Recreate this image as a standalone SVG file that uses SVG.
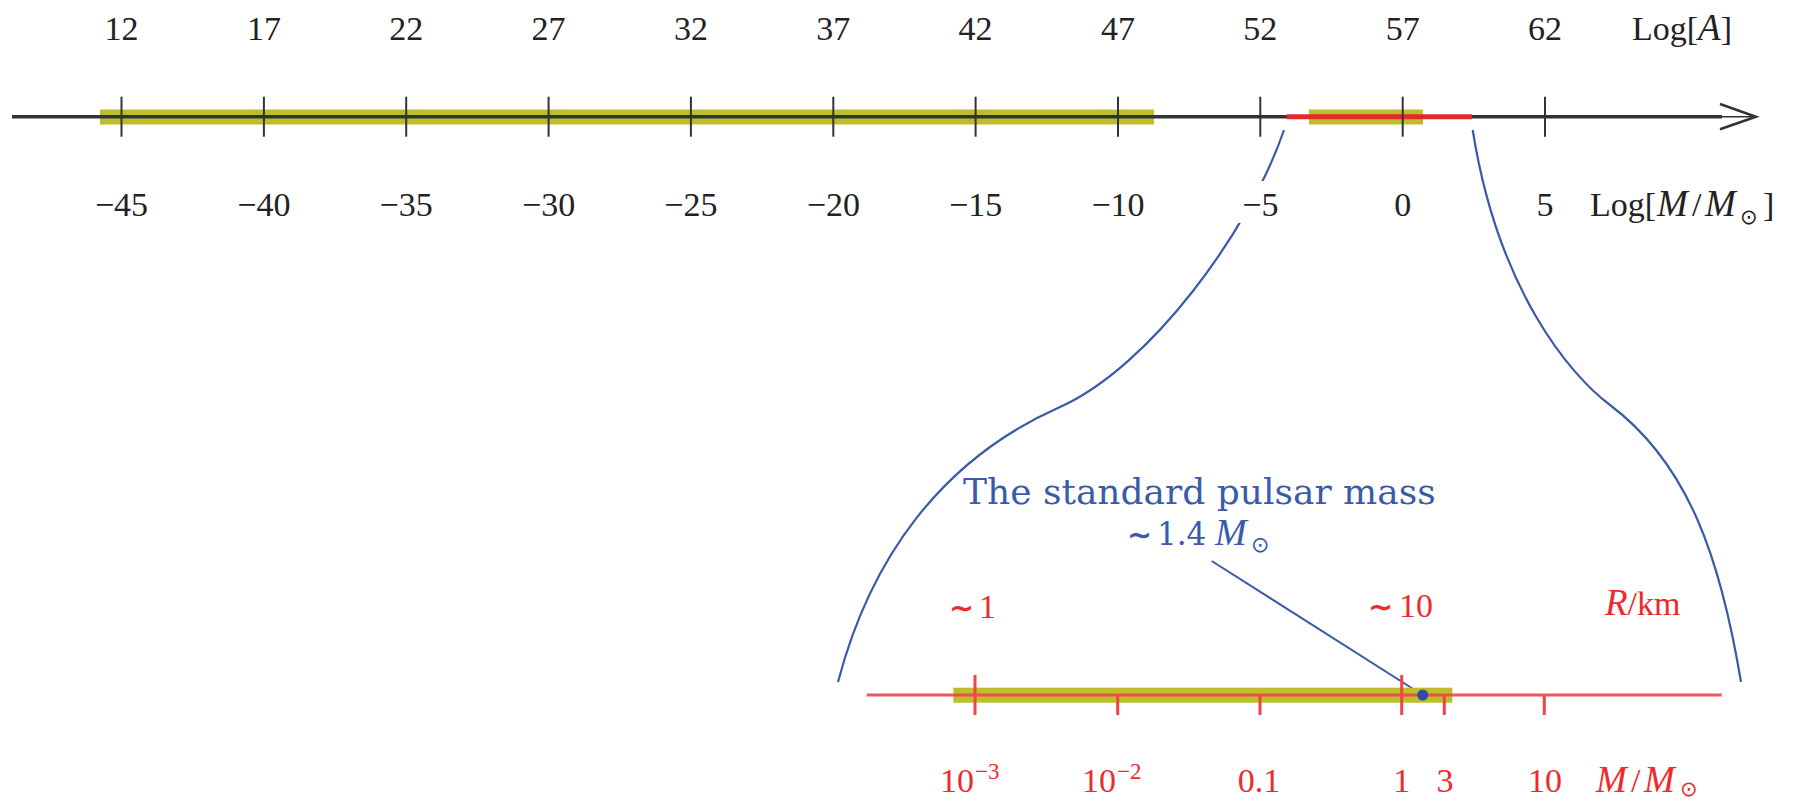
<svg xmlns="http://www.w3.org/2000/svg" width="1794" height="802" viewBox="0 0 1794 802">
<style>
.num{font-family:"Liberation Serif",serif;font-size:34px;fill:#222;text-anchor:middle}
.lbl{font-family:"Liberation Serif",serif;font-size:34px;fill:#222}
.it{font-style:italic}
.mi{font-style:italic;font-size:37px}
.red{fill:#ee2a2a}
.blue{fill:#3a5ba8}
.sun{font-family:"DejaVu Sans",sans-serif;font-size:21px}
.tl{font-family:"DejaVu Sans",sans-serif;font-size:30px;font-weight:bold}
.tick{stroke:#333;stroke-width:2}
.rtick{stroke:#f04545;stroke-width:3}
.band{fill:#bebe2c}
.curve{fill:none;stroke:#3a5ba8;stroke-width:2.2}
</style>
<rect width="1794" height="802" fill="#fff"/>
<g id="top-axis">
  <rect class="band" x="100" y="109.5" width="1054" height="15"/>
  <rect class="band" x="1309" y="109.5" width="114" height="15"/>
  <line x1="12" y1="116.7" x2="1722" y2="116.7" stroke="#333" stroke-width="3.5"/>
  <line x1="1720" y1="116.7" x2="1754" y2="116.7" stroke="#333" stroke-width="1.5"/>
  <polyline points="1720,104 1756,116.7 1720,129.3" fill="none" stroke="#333" stroke-width="2.5"/>
  <line x1="1286.7" y1="116.7" x2="1472" y2="116.7" stroke="#e32a2a" stroke-width="5"/>
  <g>
    <line class="tick" x1="121.5" y1="96.7" x2="121.5" y2="136.7"/>
    <line class="tick" x1="263.9" y1="96.7" x2="263.9" y2="136.7"/>
    <line class="tick" x1="406.2" y1="96.7" x2="406.2" y2="136.7"/>
    <line class="tick" x1="548.6" y1="96.7" x2="548.6" y2="136.7"/>
    <line class="tick" x1="690.9" y1="96.7" x2="690.9" y2="136.7"/>
    <line class="tick" x1="833.3" y1="96.7" x2="833.3" y2="136.7"/>
    <line class="tick" x1="975.6" y1="96.7" x2="975.6" y2="136.7"/>
    <line class="tick" x1="1118" y1="96.7" x2="1118" y2="136.7"/>
    <line class="tick" x1="1260.3" y1="96.7" x2="1260.3" y2="136.7"/>
    <line class="tick" x1="1402.7" y1="96.7" x2="1402.7" y2="136.7"/>
    <line class="tick" x1="1545" y1="96.7" x2="1545" y2="136.7"/>
  </g>
  <g>
    <text class="num" x="121.5" y="39.5">12</text>
    <text class="num" x="263.9" y="39.5">17</text>
    <text class="num" x="406.2" y="39.5">22</text>
    <text class="num" x="548.6" y="39.5">27</text>
    <text class="num" x="690.9" y="39.5">32</text>
    <text class="num" x="833.3" y="39.5">37</text>
    <text class="num" x="975.6" y="39.5">42</text>
    <text class="num" x="1118" y="39.5">47</text>
    <text class="num" x="1260.3" y="39.5">52</text>
    <text class="num" x="1402.7" y="39.5">57</text>
    <text class="num" x="1545" y="39.5">62</text>
    <text class="lbl" x="1632" y="39.5">Log[<tspan class="mi">A</tspan>]</text>
  </g>
</g>
<g id="connectors">
  <path class="curve" d="M1284,130 C1250,230 1150,367 1060,407 C940,460 870,560 838,682"/>
  <path class="curve" d="M1472.7,130 C1498,290 1570,375 1610,405 C1690,465 1721,562 1741,682"/>
  <line x1="1211.7" y1="561" x2="1422.7" y2="695" stroke="#3a5ba8" stroke-width="2"/>
</g>
<g id="top-axis-bottom-labels">
  <rect x="1232" y="181" width="58" height="42" fill="#fff"/>
  <text class="num" x="121.5" y="216">−45</text>
  <text class="num" x="263.9" y="216">−40</text>
  <text class="num" x="406.2" y="216">−35</text>
  <text class="num" x="548.6" y="216">−30</text>
  <text class="num" x="690.9" y="216">−25</text>
  <text class="num" x="833.3" y="216">−20</text>
  <text class="num" x="975.6" y="216">−15</text>
  <text class="num" x="1118" y="216">−10</text>
  <text class="num" x="1260.3" y="216">−5</text>
  <text class="num" x="1402.7" y="216">0</text>
  <text class="num" x="1545" y="216">5</text>
  <text class="lbl" x="1590" y="216">Log[<tspan class="mi" x="1657">M</tspan><tspan x="1692">/</tspan><tspan class="mi" x="1705">M</tspan><tspan class="sun" x="1740" dy="8">⊙</tspan><tspan x="1763" dy="-8">]</tspan></text>
</g>
<g id="pulsar-label">
  <text x="963" y="504" font-family="DejaVu Serif, serif" font-size="36" class="blue">The standard pulsar mass</text>
  <text x="1127" y="545" class="blue"><tspan class="tl">∼</tspan><tspan x="1157" font-family="DejaVu Serif, serif" font-size="31">1.4</tspan><tspan x="1215" font-family="Liberation Serif, serif" font-size="38" font-style="italic">M</tspan><tspan x="1251" dy="7" font-family="DejaVu Sans, sans-serif" font-size="22">⊙</tspan></text>
</g>
<g id="bottom-axis">
  <rect class="band" x="953.3" y="687.7" width="499" height="15"/>
  <line x1="866.7" y1="695" x2="1721.7" y2="695" stroke="#f04545" stroke-width="3" stroke-opacity="0.9"/>
  <line class="rtick" x1="975" y1="675" x2="975" y2="715"/>
  <line class="rtick" x1="1117.7" y1="695" x2="1117.7" y2="715"/>
  <line class="rtick" x1="1260" y1="695" x2="1260" y2="715"/>
  <line class="rtick" x1="1401.7" y1="675" x2="1401.7" y2="715"/>
  <line class="rtick" x1="1444.3" y1="695" x2="1444.3" y2="715"/>
  <line class="rtick" x1="1544.3" y1="695" x2="1544.3" y2="715"/>
  <circle cx="1422.7" cy="695" r="5.5" fill="#2f4fa0"/>
</g>
<g id="bottom-labels">
  <text class="lbl red" x="949" y="618"><tspan class="tl">∼</tspan><tspan x="979">1</tspan></text>
  <text class="lbl red" x="1368" y="617"><tspan class="tl">∼</tspan><tspan x="1399">10</tspan></text>
  <text class="lbl red" x="1605" y="615"><tspan class="mi">R</tspan>/km</text>
  <text class="lbl red" x="940" y="792">10<tspan x="975" y="779" font-size="23">−3</tspan></text>
  <text class="lbl red" x="1082" y="792">10<tspan x="1117" y="779" font-size="23">−2</tspan></text>
  <text class="num red" x="1259" y="792">0.1</text>
  <text class="num red" x="1401.7" y="792">1</text>
  <text class="num red" x="1445" y="792">3</text>
  <text class="num red" x="1545" y="792">10</text>
  <text class="lbl red" x="1596" y="792"><tspan class="mi">M</tspan><tspan x="1631">/</tspan><tspan class="mi" x="1644">M</tspan><tspan class="sun" x="1680" dy="4">⊙</tspan></text>
</g>
</svg>
